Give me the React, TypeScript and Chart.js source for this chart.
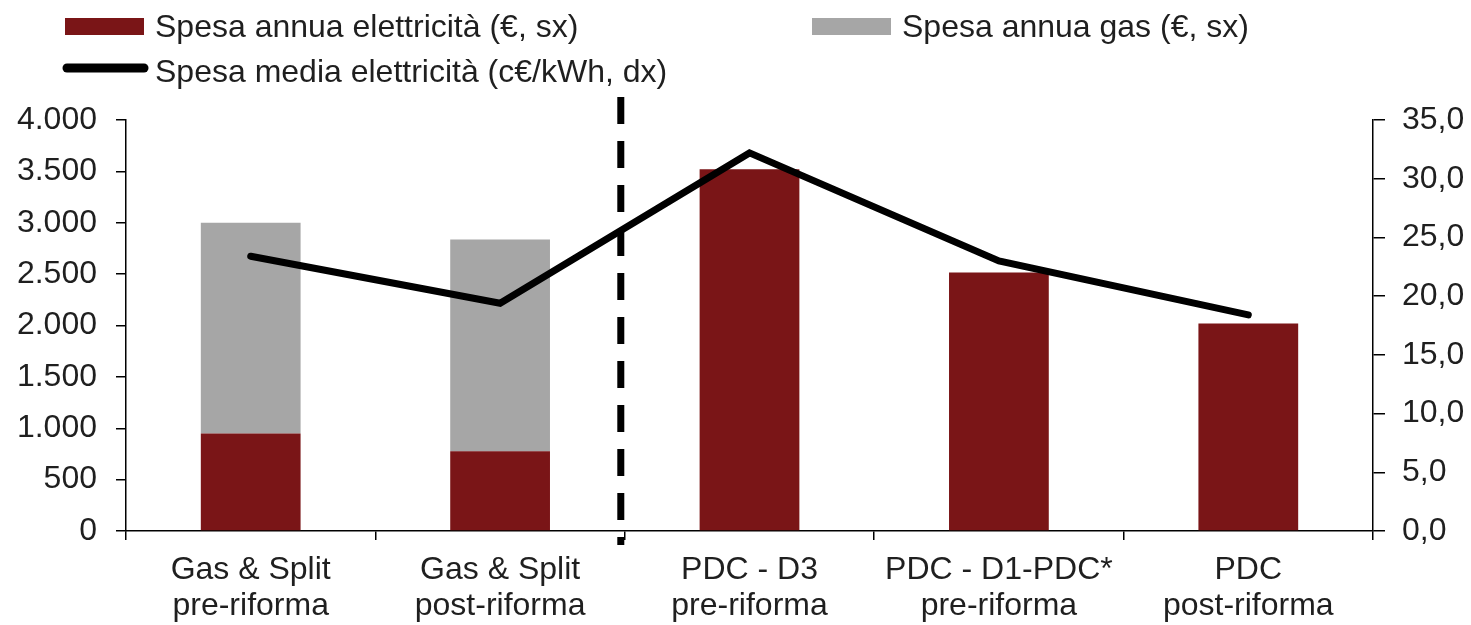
import React, { useEffect, useRef } from "react";
import { Chart, registerables } from "chart.js";

Chart.register(...registerables);

// ---- data ----
const categories: string[][] = [
  ["Gas & Split", "pre-riforma"],
  ["Gas & Split", "post-riforma"],
  ["PDC - D3", "pre-riforma"],
  ["PDC - D1-PDC*", "pre-riforma"],
  ["PDC", "post-riforma"],
];
const electricitySpend: (number | null)[] = [950, 776, 3520, 2515, 2020];
const gasSpend: (number | null)[] = [2050, 2060, null, null, null];
const avgElectricityPrice: number[] = [23.4, 19.4, 32.2, 23.0, 18.4];

const legendLabels = {
  elec: "Spesa annua elettricità (€, sx)",
  gas: "Spesa annua gas (€, sx)",
  price: "Spesa media elettricità (c€/kWh, dx)",
};

const leftMin = 0;
const leftMax = 4000;
const leftStep = 500;
const rightMin = 0;
const rightMax = 35;
const rightStep = 5;
// the dashed divider sits between these two category indexes
const dividerBetween = [1, 2];

// ---- styles ----
const RED = "#7A1517";
const GREY = "#A6A6A6";
const BLACK = "#000000";
const TEXT = "#1f1f1f";
const FONT_FAMILY = "'Liberation Sans', Arial, sans-serif";
const FONT_SIZE = 32;

const fmtLeft = (v: number) => {
  if (v >= 1000) {
    const th = Math.floor(v / 1000);
    const rest = String(v % 1000).padStart(3, "0");
    return `${th}.${rest}`;
  }
  return String(v);
};
const fmtRight = (v: number) => v.toFixed(1).replace(".", ",");

const dividerPlugin = {
  id: "divider",
  beforeDatasetsDraw(chart: any) {
    const x = chart.scales.x;
    const area = chart.chartArea;
    const px =
      (x.getPixelForValue(dividerBetween[0]) + x.getPixelForValue(dividerBetween[1])) / 2 - 4;
    const ctx = chart.ctx;
    ctx.save();
    ctx.beginPath();
    ctx.setLineDash([27, 17]);
    ctx.lineWidth = 7;
    ctx.strokeStyle = BLACK;
    ctx.moveTo(px, area.top - 23);
    ctx.lineTo(px, area.bottom + 14);
    ctx.stroke();
    ctx.restore();
  },
};

const legendPlugin = {
  id: "customLegend",
  afterDraw(chart: any) {
    const ctx = chart.ctx;
    const ds = chart.data.datasets;
    ctx.save();
    ctx.font = `${FONT_SIZE}px ${FONT_FAMILY}`;
    ctx.textAlign = "left";
    ctx.textBaseline = "alphabetic";
    ctx.fillStyle = TEXT;
    // row 1
    ctx.fillStyle = ds[0].backgroundColor;
    ctx.fillRect(65, 18, 79, 17);
    ctx.fillStyle = TEXT;
    ctx.fillText(ds[0].label, 155, 37);
    ctx.fillStyle = ds[1].backgroundColor;
    ctx.fillRect(812, 18, 79, 17);
    ctx.fillStyle = TEXT;
    ctx.fillText(ds[1].label, 902, 37);
    // row 2
    ctx.beginPath();
    ctx.lineWidth = 9;
    ctx.lineCap = "round";
    ctx.strokeStyle = ds[2].borderColor;
    ctx.moveTo(67, 68);
    ctx.lineTo(144, 68);
    ctx.stroke();
    ctx.fillStyle = TEXT;
    ctx.fillText(ds[2].label, 155, 82);
    ctx.restore();
  },
};

export default function App() {
  const canvasRef = useRef<HTMLCanvasElement | null>(null);

  useEffect(() => {
    document.body.style.margin = "0";
    const canvas = canvasRef.current;
    if (!canvas) return;
    const font = { family: FONT_FAMILY, size: FONT_SIZE, lineHeight: 1.12 };
    const chart = new Chart(canvas, {
      type: "bar",
      data: {
        labels: categories,
        datasets: [
          {
            type: "bar",
            label: legendLabels.elec,
            data: electricitySpend,
            backgroundColor: RED,
            yAxisID: "y",
            stack: "s",
            order: 1,
            categoryPercentage: 1,
            barPercentage: 0.4,
          },
          {
            type: "bar",
            label: legendLabels.gas,
            data: gasSpend,
            backgroundColor: GREY,
            yAxisID: "y",
            stack: "s",
            order: 1,
            categoryPercentage: 1,
            barPercentage: 0.4,
          },
          {
            type: "line",
            label: legendLabels.price,
            data: avgElectricityPrice,
            borderColor: BLACK,
            backgroundColor: BLACK,
            borderWidth: 7,
            pointRadius: 0,
            tension: 0,
            borderCapStyle: "round",
            borderJoinStyle: "miter",
            yAxisID: "y1",
            order: 0,
          },
        ],
      } as any,
      options: {
        responsive: false,
        animation: false,
        layout: { padding: { top: 120, left: 0, right: 0, bottom: 0 } },
        plugins: {
          legend: { display: false },
          tooltip: { enabled: false },
        },
        scales: {
          x: {
            stacked: true,
            offset: true,
            grid: {
              display: true,
              offset: true,
              drawOnChartArea: false,
              drawTicks: true,
              tickLength: 9,
              color: BLACK,
              lineWidth: 1.5,
            },
            border: { display: true, color: BLACK, width: 1.5 },
            ticks: {
              color: TEXT,
              font,
              padding: 12,
              maxRotation: 0,
              autoSkip: false,
            },
            afterFit(scale: any) {
              scale.height = 94;
            },
          },
          y: {
            position: "left",
            stacked: true,
            min: leftMin,
            max: leftMax,
            grid: {
              display: true,
              drawOnChartArea: false,
              drawTicks: true,
              tickLength: 10,
              color: BLACK,
              lineWidth: 1.5,
            },
            border: { display: true, color: BLACK, width: 1.5 },
            ticks: {
              stepSize: leftStep,
              color: TEXT,
              font,
              padding: 19,
              callback: (v: any) => fmtLeft(Number(v)),
            },
            afterFit(scale: any) {
              scale.width = 126;
            },
          },
          y1: {
            position: "right",
            min: rightMin,
            max: rightMax,
            grid: {
              display: true,
              drawOnChartArea: false,
              drawTicks: true,
              tickLength: 12,
              color: BLACK,
              lineWidth: 1.5,
            },
            border: { display: true, color: BLACK, width: 1.5 },
            ticks: {
              stepSize: rightStep,
              color: TEXT,
              font,
              padding: 17,
              callback: (v: any) => fmtRight(Number(v)),
            },
            afterFit(scale: any) {
              scale.width = 98;
            },
          },
        },
      } as any,
      plugins: [dividerPlugin, legendPlugin],
    });
    return () => chart.destroy();
  }, []);

  return (
    <div style={{ width: 1471, height: 625, background: "#fff" }}>
      <canvas ref={canvasRef} width={1471} height={625} style={{ display: "block" }} />
    </div>
  );
}
